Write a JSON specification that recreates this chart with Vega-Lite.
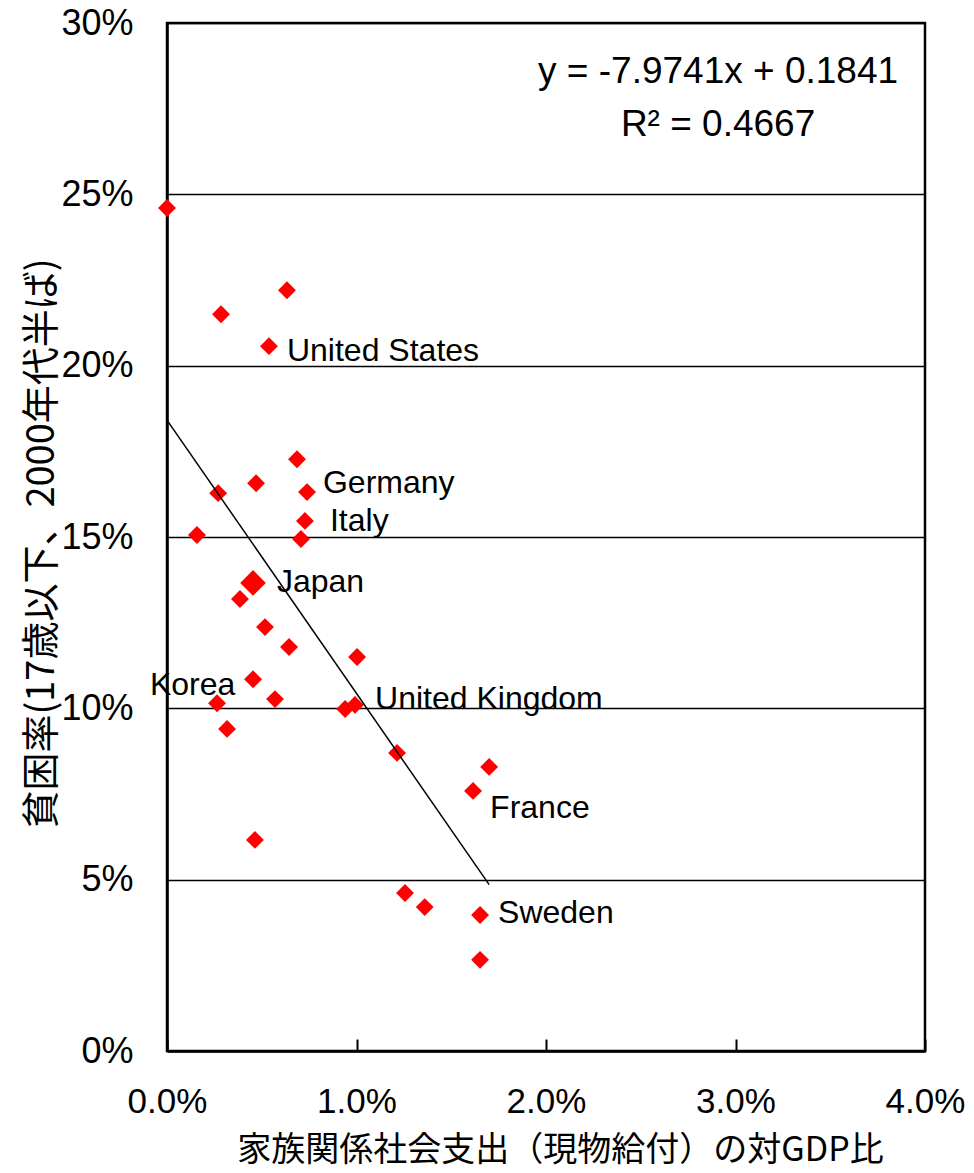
{
  "$schema": "https://vega.github.io/schema/vega-lite/v6.json",
  "width": 758,
  "height": 1028,
  "autosize": {"type": "none"},
  "padding": {"left": 167, "top": 23, "right": 49, "bottom": 122},
  "background": "white",
  "config": {
    "view": {"stroke": "black", "strokeWidth": 2.5},
    "font": "Liberation Sans"
  },
  "datasets": {
    "points": [
      {"spend": 0.0000, "poverty": 0.246, "country": ""},
      {"spend": 0.00285, "poverty": 0.215, "country": ""},
      {"spend": 0.00633, "poverty": 0.222, "country": ""},
      {"spend": 0.00538, "poverty": 0.2057, "country": "United States"},
      {"spend": 0.00686, "poverty": 0.1727, "country": ""},
      {"spend": 0.0047, "poverty": 0.1657, "country": ""},
      {"spend": 0.0027, "poverty": 0.1628, "country": ""},
      {"spend": 0.00739, "poverty": 0.1631, "country": "Germany"},
      {"spend": 0.00728, "poverty": 0.1547, "country": "Italy"},
      {"spend": 0.00158, "poverty": 0.1506, "country": ""},
      {"spend": 0.00707, "poverty": 0.1494, "country": ""},
      {"spend": 0.00454, "poverty": 0.1366, "country": "Japan"},
      {"spend": 0.00385, "poverty": 0.1319, "country": ""},
      {"spend": 0.00517, "poverty": 0.1237, "country": ""},
      {"spend": 0.00644, "poverty": 0.1179, "country": ""},
      {"spend": 0.01003, "poverty": 0.1150, "country": ""},
      {"spend": 0.00454, "poverty": 0.1085, "country": "Korea"},
      {"spend": 0.00264, "poverty": 0.1015, "country": ""},
      {"spend": 0.0057, "poverty": 0.1027, "country": ""},
      {"spend": 0.0094, "poverty": 0.0998, "country": ""},
      {"spend": 0.00992, "poverty": 0.1010, "country": "United Kingdom"},
      {"spend": 0.00317, "poverty": 0.0940, "country": ""},
      {"spend": 0.01214, "poverty": 0.0870, "country": ""},
      {"spend": 0.0170, "poverty": 0.0829, "country": ""},
      {"spend": 0.01615, "poverty": 0.0759, "country": "France"},
      {"spend": 0.00464, "poverty": 0.0616, "country": ""},
      {"spend": 0.01256, "poverty": 0.0461, "country": ""},
      {"spend": 0.0136, "poverty": 0.0420, "country": ""},
      {"spend": 0.01652, "poverty": 0.0397, "country": "Sweden"},
      {"spend": 0.01652, "poverty": 0.0266, "country": ""}
    ],
    "trend": [
      {"spend": 0.0, "poverty": 0.1841},
      {"spend": 0.0170, "poverty": 0.04854}
    ],
    "labels": [
      {"spend": 0.00633, "poverty": 0.2043, "text": "United States"},
      {"spend": 0.00823, "poverty": 0.1657, "text": "Germany"},
      {"spend": 0.0086, "poverty": 0.1547, "text": "Italy"},
      {"spend": 0.0058, "poverty": 0.1369, "text": "Japan"},
      {"spend": -0.0009, "poverty": 0.1068, "text": "Korea"},
      {"spend": 0.01098, "poverty": 0.1027, "text": "United Kingdom"},
      {"spend": 0.01705, "poverty": 0.0709, "text": "France"},
      {"spend": 0.01747, "poverty": 0.0403, "text": "Sweden"}
    ],
    "equation": [
      {"spend": 0.02908, "poverty": 0.2857, "text": "y = -7.9741x + 0.1841"},
      {"spend": 0.02908, "poverty": 0.2702, "text": "R² = 0.4667"}
    ]
  },
  "encoding": {
    "x": {
      "field": "spend",
      "type": "quantitative",
      "scale": {"domain": [0, 0.04], "nice": false, "zero": false},
      "axis": {
        "title": "家族関係社会支出（現物給付）の対GDP比",
        "titleFont": "Noto Sans CJK JP",
        "titleFontSize": 34,
        "titleFontWeight": "normal",
        "titleColor": "black",
        "titleX": 393,
        "titleY": 99,
        "titleAlign": "center",
        "titleBaseline": "middle",
        "values": [0, 0.01, 0.02, 0.03, 0.04],
        "format": ".1%",
        "labelFontSize": 35,
        "labelColor": "black",
        "labelBaseline": "middle",
        "labelPadding": 62,
        "labelFlush": false,
        "labelOverlap": false,
        "tickSize": -12,
        "tickColor": "black",
        "tickWidth": 2,
        "domainColor": "black",
        "domainWidth": 2.5,
        "grid": false
      }
    },
    "y": {
      "field": "poverty",
      "type": "quantitative",
      "scale": {"domain": [0, 0.3], "nice": false, "zero": false},
      "axis": {
        "title": "貧困率(17歳以下、2000年代半ば)",
        "titleFont": "Noto Sans CJK JP",
        "titleFontSize": 38,
        "titleFontWeight": "normal",
        "titleColor": "black",
        "titleX": -125,
        "titleY": 520,
        "titleAngle": -90,
        "titleAlign": "center",
        "titleBaseline": "middle",
        "values": [0, 0.05, 0.1, 0.15, 0.2, 0.25, 0.3],
        "format": ".0%",
        "labelFontSize": 36,
        "labelColor": "black",
        "labelPadding": 34,
        "labelFlush": false,
        "labelOverlap": false,
        "ticks": false,
        "domainColor": "black",
        "domainWidth": 2.5,
        "grid": true,
        "gridColor": "black",
        "gridWidth": 1.6,
        "gridOpacity": 1
      }
    }
  },
  "layer": [
    {
      "data": {"name": "points"},
      "mark": {"type": "point", "shape": "diamond", "filled": true, "color": "#ff0000", "opacity": 1, "strokeWidth": 0, "clip": false},
      "encoding": {
        "size": {
          "condition": {"test": "datum.country === 'Japan'", "value": 660},
          "value": 320
        }
      }
    },
    {
      "data": {"name": "trend"},
      "mark": {"type": "line", "color": "black", "strokeWidth": 1.5},
      "encoding": {}
    },
    {
      "data": {"name": "labels"},
      "mark": {"type": "text", "align": "left", "baseline": "middle", "fontSize": 32, "font": "Liberation Sans", "color": "black", "clip": false},
      "encoding": {"text": {"field": "text"}}
    },
    {
      "data": {"name": "equation"},
      "mark": {"type": "text", "align": "center", "baseline": "middle", "fontSize": 37, "font": "Liberation Sans", "color": "black"},
      "encoding": {"text": {"field": "text"}}
    }
  ]
}
